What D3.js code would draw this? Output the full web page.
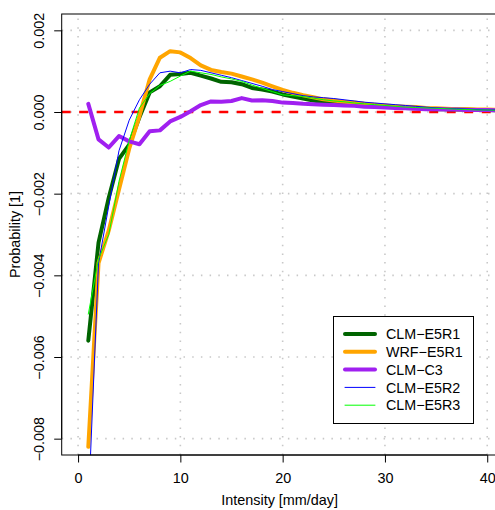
<!DOCTYPE html>
<html><head><meta charset="utf-8">
<script src="https://cdn.jsdelivr.net/npm/d3@7"></script>
<style>body{margin:0;background:#fff}svg{display:block}text{font-family:"Liberation Sans",Arial,sans-serif;fill:#000}</style>
</head><body><svg id="c" width="495" height="510"></svg>
<script>
const intensity = d3.range(1, 43);
const clmE5R1 = [-0.0056,-0.0032,-0.0021,-0.00115,-0.0008,-0.00013,0.00048,0.00063,0.00091,0.00093,0.00096,0.00089,0.00082,0.00074,0.00073,0.00068,0.00059,0.00055,0.0005,0.00043,0.00038,0.00033,0.00028,0.00024,0.00022,0.0002,0.00019,0.00017,0.00015,0.00013,0.00012,0.0001,0.00009,0.00008,0.00007,0.00007,0.00006,0.00006,0.00005,0.00005,0.00004,0.00004];
const wrfE5R1 = [-0.0082,-0.0037,-0.0029,-0.0019,-0.0009,-0.0001,0.0008,0.00133,0.00149,0.00146,0.00132,0.00114,0.00103,0.00098,0.00094,0.00087,0.0008,0.00072,0.00063,0.00054,0.00047,0.00041,0.00036,0.00031,0.00028,0.00025,0.00023,0.0002,0.00018,0.00016,0.00014,0.00013,0.00012,0.0001,0.00009,0.00008,0.00007,0.00007,0.00006,0.00006,0.00005,0.00005];
const clmC3 = [0.0002,-0.00067,-0.00087,-0.00059,-0.00072,-0.00079,-0.00047,-0.00045,-0.00023,-0.00012,0.00002,0.00017,0.00026,0.00025,0.00027,0.00034,0.00028,0.00029,0.00027,0.00023,0.00022,0.0002,0.00019,0.00018,0.00017,0.00016,0.00015,0.00013,0.00012,0.00011,0.0001,0.00009,0.00008,0.00007,0.00007,0.00006,0.00006,0.00005,0.00005,0.00005,0.00004,0.00004];
const clmE5R2 = [-0.0097,-0.0037,-0.0023,-0.00095,-0.0002,0.0003,0.00068,0.00096,0.001,0.00096,0.00104,0.00102,0.00096,0.0009,0.00084,0.00077,0.0007,0.00063,0.00055,0.0005,0.00045,0.0004,0.00037,0.00035,0.00033,0.0003,0.00027,0.00024,0.00022,0.0002,0.00018,0.00016,0.00014,0.00012,0.0001,0.00009,0.00008,0.00007,0.00006,0.00005,0.00005,0.00004];
const clmE5R3 = [-0.00495,-0.0036,-0.003,-0.0017,-0.0007,0.0001,0.00045,0.00065,0.00075,0.00088,0.001,0.00096,0.00092,0.00086,0.00081,0.00075,0.00066,0.00058,0.0005,0.00042,0.0004,0.00038,0.00034,0.0003,0.00027,0.00025,0.00022,0.0002,0.00018,0.00016,0.00014,0.00012,0.00011,0.0001,0.00009,0.00008,0.00007,0.00006,0.00005,0.00005,0.00004,0.00004];
const seriesNames = ["CLM\u2212E5R1","WRF\u2212E5R1","CLM\u2212C3","CLM\u2212E5R2","CLM\u2212E5R3"];
const seriesColors = ["#006400","#FFA500","#A020F0","#0000FF","#00FF00"];
const seriesWidths = [4,4,4,1,1];
const seriesValues = [clmE5R1, wrfE5R1, clmC3, clmE5R2, clmE5R3];
const xTicks = [0,10,20,30,40];
const yTicks = [-0.008,-0.006,-0.004,-0.002,0,0.002];
const yTickLabels = ["\u22120.008","\u22120.006","\u22120.004","\u22120.002","0.000","0.002"];

const svg = d3.select("#c");
const L = 61.7, T = 14, B = 455, R = 503.6;
const x = d3.scaleLinear().domain([-1.6, 41.6]).range([L, R]);
const y = d3.scaleLinear().domain([-0.0084, 0.0024]).range([B, T]);

svg.append("defs").append("clipPath").attr("id","clip")
  .append("rect").attr("x",L).attr("y",T).attr("width",R-L).attr("height",B-T);

// grid
const grid = svg.append("g").attr("stroke","#C8C8C8").attr("stroke-width",1.6).attr("stroke-dasharray","1.5,7.2").attr("clip-path","url(#clip)");
xTicks.forEach(t => grid.append("line").attr("x1",x(t)).attr("x2",x(t)).attr("y1",B).attr("y2",T));
yTicks.forEach(t => grid.append("line").attr("x1",L).attr("x2",R).attr("y1",y(t)).attr("y2",y(t)));

// zero line
svg.append("line").attr("x1",L).attr("x2",R).attr("y1",y(0)).attr("y2",y(0))
  .attr("stroke","#FF0000").attr("stroke-width",2.5).attr("stroke-dasharray","9,8.5");

// series
const line = d3.line().x((d,i)=>x(intensity[i])).y(d=>y(d));
const lines = svg.append("g").attr("clip-path","url(#clip)");
seriesValues.forEach((vals, k) => {
  lines.append("path").datum(vals).attr("d", line).attr("fill","none")
    .attr("stroke", seriesColors[k]).attr("stroke-width", seriesWidths[k])
    .attr("stroke-linejoin","round").attr("stroke-linecap","round");
});

// box
svg.append("rect").attr("x",L).attr("y",T).attr("width",R-L).attr("height",B-T)
  .attr("fill","none").attr("stroke","#000").attr("stroke-width",1);

// x axis
const xAxis = d3.axisBottom(x).tickValues(xTicks).tickSize(7.5).tickPadding(10).tickFormat(d3.format("d"));
const gx = svg.append("g").attr("transform",`translate(0,${B})`).call(xAxis);
gx.select(".domain").attr("d", `M${x(0)},0H${x(40)}`).attr("stroke","#000");
gx.selectAll(".tick line").attr("stroke","#000");
gx.selectAll("text").attr("font-size","14.4px").attr("font-family","'Liberation Sans',Arial,sans-serif").attr("fill","#000");

// y axis
const yAxis = d3.axisLeft(y).tickValues(yTicks).tickSize(7.5).tickFormat((d,i)=>yTickLabels[i]);
const gy = svg.append("g").attr("transform",`translate(${L},0)`).call(yAxis);
gy.select(".domain").attr("d", `M0,${y(-0.008)}V${y(0.002)}`).attr("stroke","#000");
gy.selectAll(".tick line").attr("stroke","#000");
gy.selectAll("text").attr("font-size","14.4px").attr("font-family","'Liberation Sans',Arial,sans-serif").attr("fill","#000")
  .attr("x",0).attr("dy",0).attr("text-anchor","middle")
  .attr("transform","translate(-18,0) rotate(-90)");

// axis titles
svg.append("text").attr("x",(x(-1.6)+x(41.6))/2 - 3).attr("y",505).attr("text-anchor","middle")
  .attr("font-size","14.4px").text("Intensity [mm/day]");
svg.append("text").attr("transform",`translate(20,${(T+B)/2}) rotate(-90)`).attr("text-anchor","middle")
  .attr("font-size","14.4px").text("Probability [1]");
</script>
<script>
// legend
(function(){
  const svg = d3.select("#c");
  const lg = svg.append("g");
  lg.append("rect").attr("x",333.5).attr("y",316.5).attr("width",140).attr("height",107)
    .attr("fill","#fff").attr("stroke","#000").attr("stroke-width",1);
  seriesNames.forEach((n,k)=>{
    const yy = 334 + k*17.8;
    lg.append("line").attr("x1",345).attr("x2",375).attr("y1",yy).attr("y2",yy)
      .attr("stroke",seriesColors[k]).attr("stroke-width",seriesWidths[k]).attr("stroke-linecap","round");
    lg.append("text").attr("x",386).attr("y",yy+5.2).attr("font-size","14.3px").text(n);
  });
})();
</script>
</body></html>
